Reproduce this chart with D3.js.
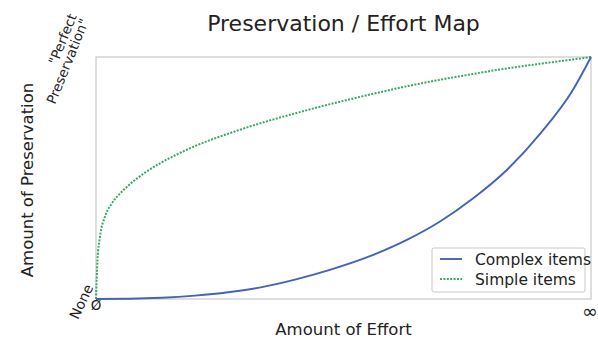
<!DOCTYPE html>
<html>
<head>
<meta charset="utf-8">
<script src="https://cdn.jsdelivr.net/npm/d3@7/dist/d3.min.js"></script>
<style>
  html, body { margin: 0; padding: 0; background: #fff; }
  svg { display: block; font-family: "DejaVu Sans", sans-serif; }
</style>
</head>
<body>
<svg id="chart" width="598" height="342"></svg>
<script>
// Effort (0 = none, 1 = unlimited) against preservation (0 = none, 1 = perfect)
const complexEffort = [0, 0.067, 0.133, 0.2, 0.267, 0.335, 0.402, 0.469, 0.56, 0.628, 0.695, 0.762, 0.83, 0.897, 0.964, 1];
const complexPreservation = [0, 0.001, 0.005, 0.014, 0.028, 0.049, 0.08, 0.118, 0.182, 0.244, 0.32, 0.416, 0.533, 0.682, 0.866, 1];

const simpleEffort = [0, 0.003, 0.008, 0.018, 0.032, 0.052, 0.066, 0.099, 0.133, 0.166, 0.2, 0.267, 0.335, 0.402, 0.469, 0.56, 0.628, 0.695, 0.762, 0.83, 0.897, 0.964, 1];
const simplePreservation = [0, 0.16, 0.257, 0.34, 0.395, 0.443, 0.47, 0.522, 0.565, 0.6, 0.632, 0.683, 0.728, 0.767, 0.803, 0.848, 0.879, 0.906, 0.93, 0.953, 0.972, 0.99, 1];

const seriesNames = ["Complex items", "Simple items"];
const xTickValues = [0, 1];
const xTickLabels = ["Ø", "∞"];
const yTickLabels = ["None", ["\"Perfect", "Preservation\""]];

const title = "Preservation / Effort Map";
const xTitle = "Amount of Effort";
const yTitle = "Amount of Preservation";

const colors = ["#4363b6", "#3aa866"];

const svg = d3.select("#chart");
const plot = { left: 96, right: 591, top: 57, bottom: 299 };

const x = d3.scaleLinear().domain([0, 1]).range([plot.left, plot.right]);
const y = d3.scaleLinear().domain([0, 1]).range([plot.bottom, plot.top]);

// plot frame
svg.append("rect")
  .attr("x", plot.left).attr("y", plot.top)
  .attr("width", plot.right - plot.left).attr("height", plot.bottom - plot.top)
  .attr("fill", "none").attr("stroke", "#c8c8c8").attr("stroke-width", 1.2);

const line = d3.line().x(d => x(d[0])).y(d => y(d[1])).curve(d3.curveMonotoneX);

const complexData = d3.zip(complexEffort, complexPreservation);
const simpleData = d3.zip(simpleEffort, simplePreservation);

svg.append("path").datum(simpleData)
  .attr("d", line).attr("fill", "none")
  .attr("stroke", colors[1]).attr("stroke-width", 2)
  .attr("stroke-dasharray", "2,1.4");

svg.append("path").datum(complexData)
  .attr("d", line).attr("fill", "none")
  .attr("stroke", colors[0]).attr("stroke-width", 1.9);

// title
svg.append("text")
  .attr("x", (plot.left + plot.right) / 2).attr("y", 31)
  .attr("text-anchor", "middle").attr("font-size", 22).attr("fill", "#222")
  .text(title);

// axis titles
svg.append("text")
  .attr("x", (plot.left + plot.right) / 2).attr("y", 335)
  .attr("text-anchor", "middle").attr("font-size", 16.5).attr("fill", "#222")
  .text(xTitle);

svg.append("text")
  .attr("transform", `translate(33,${(plot.top + plot.bottom) / 2 + 2}) rotate(-90)`)
  .attr("text-anchor", "middle").attr("font-size", 16.5).attr("fill", "#222")
  .text(yTitle);

// x tick labels
svg.append("text")
  .attr("x", x(xTickValues[0])).attr("y", 310)
  .attr("text-anchor", "middle").attr("font-size", 13.5).attr("fill", "#222")
  .text(xTickLabels[0]);
svg.append("text")
  .attr("x", x(xTickValues[1]) - 1).attr("y", 318)
  .attr("text-anchor", "middle").attr("font-size", 19).attr("fill", "#222")
  .text(xTickLabels[1]);

// y tick labels, rotated
svg.append("text")
  .attr("transform", `translate(89,${y(0) - 14}) rotate(-65)`)
  .attr("text-anchor", "end").attr("dominant-baseline", "central")
  .attr("font-size", 14).attr("fill", "#222")
  .text(yTickLabels[0]);

const topLabel = svg.append("text")
  .attr("transform", `translate(89,${y(1) - 36}) rotate(-68)`)
  .attr("text-anchor", "end").attr("font-size", 13.5).attr("fill", "#222");
topLabel.append("tspan").attr("x", 0).attr("dy", -13).text(yTickLabels[1][0]);
topLabel.append("tspan").attr("x", 0).attr("dy", 13).text(yTickLabels[1][1]);

// legend
const legend = svg.append("g").attr("transform", "translate(432,248)");
legend.append("rect")
  .attr("width", 153).attr("height", 44).attr("rx", 2)
  .attr("fill", "#fff").attr("stroke", "#c8c8c8").attr("stroke-width", 1);
seriesNames.forEach((name, i) => {
  const ly = 11 + i * 20;
  legend.append("line")
    .attr("x1", 8).attr("x2", 30).attr("y1", ly).attr("y2", ly)
    .attr("stroke", colors[i]).attr("stroke-width", i === 0 ? 1.9 : 2)
    .attr("stroke-dasharray", i === 0 ? null : "2,1.4");
  legend.append("text")
    .attr("x", 43).attr("y", ly + 5.5)
    .attr("font-size", 15.5).attr("fill", "#222")
    .text(name);
});
</script>
</body>
</html>
